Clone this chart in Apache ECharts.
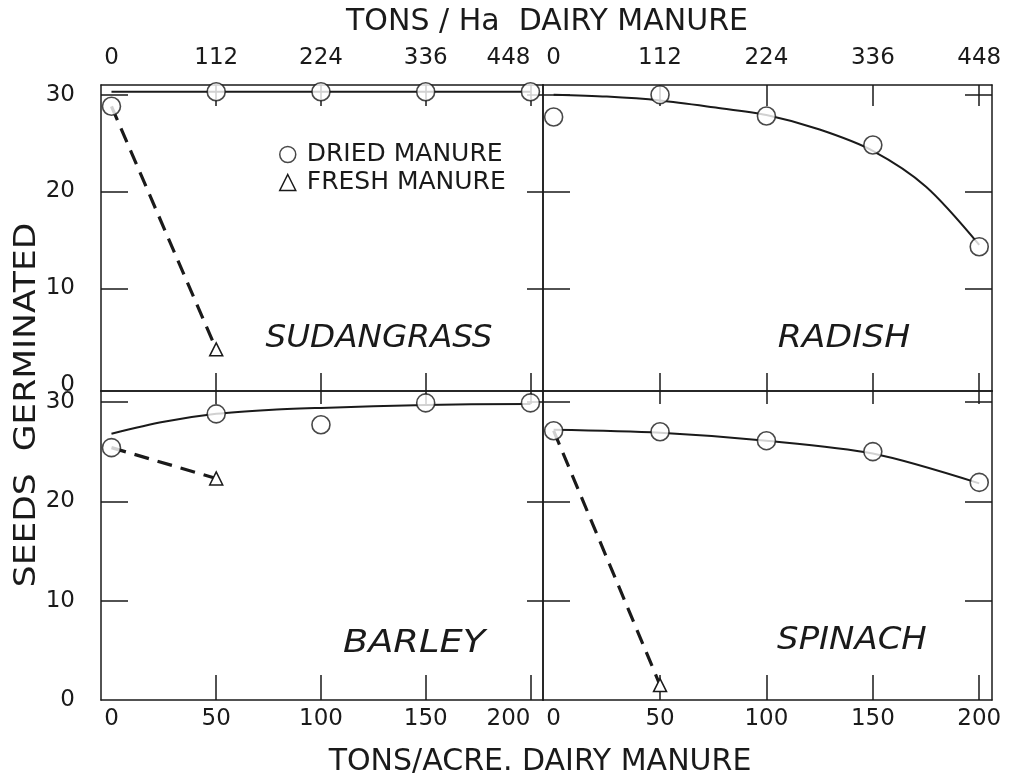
<!DOCTYPE html>
<html>
<head>
<meta charset="utf-8">
<title>Seeds germinated vs dairy manure</title>
<script src="https://cdn.jsdelivr.net/npm/echarts@6/dist/echarts.min.js"></script>
<style>
  html, body { margin: 0; padding: 0; background: #fff; }
  #main { width: 1011px; height: 781px; }
</style>
</head>
<body>
<div id="main"></div>
<script>
// axis ticks
var acreTicks = [0, 50, 100, 150, 200];
var haTicks = ['0', '112', '224', '336', '448'];
var yTicks = [0, 10, 20, 30];

// dried manure points (at acreTicks)
var sudanDried = [28.8, 30.3, 30.3, 30.3, 30.3];
var radishDried = [27.7, 30.0, 27.8, 24.8, 14.3];
var barleyDried = [25.4, 28.8, 27.7, 29.9, 29.9];
var spinachDried = [27.1, 27.0, 26.1, 25.0, 21.9];

// fresh manure (at 0 and 50 t/acre)
var freshX = [0, 50];
var sudanFresh = [28.8, 3.7];
var barleyFresh = [25.4, 22.3];
var spinachFresh = [27.1, 1.5];

// hand drawn curves through the dried points
var sudanFitX = [0, 200];
var sudanFitY = [30.3, 30.3];
var radishFitX = [0, 25, 50, 75, 100, 125, 150, 175, 200];
var radishFitY = [30.0, 29.8, 29.4, 28.7, 27.9, 26.4, 24.2, 20.5, 14.5];
var barleyFitX = [0, 25, 50, 75, 100, 150, 200];
var barleyFitY = [26.8, 28.0, 28.8, 29.2, 29.4, 29.7, 29.8];
var spinachFitX = [0, 50, 100, 150, 200];
var spinachFitY = [27.2, 26.9, 26.1, 24.8, 21.8];

var ink = '#1a1a1a';
var fontFam = '"DejaVu Sans", sans-serif';

var chartDom = document.getElementById('main');
var myChart = echarts.init(chartDom);
var option;

var pairs = function (xs, ys) {
    return xs.map(function (x, i) { return [x, ys[i]]; });
};

// panels: 0 sudangrass, 1 radish, 2 barley, 3 spinach
var grids = [
    { left: 101, top: 85, width: 442, height: 306 },
    { left: 543, top: 85, width: 449, height: 306 },
    { left: 101, top: 391, width: 442, height: 309 },
    { left: 543, top: 391, width: 449, height: 309 }
];

var lineStyle = { color: ink, width: 1.5 };

var makeX = function (g, pos, showLabel, tickLen, labels, alignMax) {
    return {
        type: 'value', gridIndex: g, position: pos, min: -5, max: 206,
        axisLine: { show: true, onZero: false, lineStyle: lineStyle },
        axisTick: { show: true, inside: true, length: tickLen, customValues: [50, 100, 150, 200], lineStyle: lineStyle },
        axisLabel: {
            show: showLabel, customValues: acreTicks, margin: pos === 'top' ? 15 : 8,
            fontSize: 23, color: ink, fontFamily: fontFam,
            alignMaxLabel: alignMax ? 'right' : null,
            formatter: function (v) { return labels[acreTicks.indexOf(v)]; }
        },
        splitLine: { show: false }
    };
};

var makeY = function (g, pos, showLabel, tickLen, min, max) {
    return {
        type: 'value', gridIndex: g, position: pos, min: min, max: max,
        axisLine: { show: true, onZero: false, lineStyle: lineStyle },
        axisTick: { show: true, inside: true, length: tickLen, customValues: [10, 20, 30], lineStyle: lineStyle },
        axisLabel: { show: showLabel, customValues: yTicks, margin: 26, fontSize: 23, color: ink, fontFamily: fontFam },
        splitLine: { show: false }
    };
};

var acreLabels = acreTicks.map(String);

var xAxes = [
    makeX(0, 'bottom', false, 18, acreLabels, false), makeX(0, 'top', true, 21, haTicks, true),
    makeX(1, 'bottom', false, 18, acreLabels, false), makeX(1, 'top', true, 21, haTicks, false),
    makeX(2, 'bottom', true, 25, acreLabels, true), makeX(2, 'top', false, 13, haTicks, false),
    makeX(3, 'bottom', true, 25, acreLabels, false), makeX(3, 'top', false, 13, haTicks, false)
];

var yAxes = [
    makeY(0, 'left', true, 27, -0.6, 31), makeY(0, 'right', false, 16, -0.6, 31),
    makeY(1, 'left', false, 27, -0.6, 31), makeY(1, 'right', false, 27, -0.6, 31),
    makeY(2, 'left', true, 27, 0, 31.1), makeY(2, 'right', false, 16, 0, 31.1),
    makeY(3, 'left', false, 27, 0, 31.1), makeY(3, 'right', false, 27, 0, 31.1)
];

var fitSeries = function (p, xs, ys) {
    return {
        type: 'line', xAxisIndex: 2 * p, yAxisIndex: 2 * p, data: pairs(xs, ys),
        smooth: 0.3, symbol: 'none', silent: true, z: 2,
        lineStyle: { color: ink, width: 2 }
    };
};

var freshSeries = function (p, ys) {
    var d = pairs(freshX, ys);
    return {
        name: 'FRESH MANURE', type: 'line', xAxisIndex: 2 * p, yAxisIndex: 2 * p,
        data: [{ value: d[0], symbol: 'none' }, { value: d[1] }],
        symbol: 'triangle', symbolSize: 13, z: 3,
        itemStyle: { color: '#fff', borderColor: ink, borderWidth: 1.5 },
        lineStyle: { color: ink, width: 3.2, type: [15, 9] }
    };
};

var driedSeries = function (p, ys) {
    return {
        name: 'DRIED MANURE', type: 'scatter', xAxisIndex: 2 * p, yAxisIndex: 2 * p,
        data: pairs(acreTicks, ys), symbol: 'circle', symbolSize: 18, z: 4,
        itemStyle: { color: '#fff', borderColor: ink, borderWidth: 1.6 }
    };
};

var panelText = function (txt, x, y, sx) {
    return {
        type: 'text', x: x, y: y, scaleX: sx, silent: true,
        style: { text: txt, font: 'italic 32px ' + fontFam, fill: ink, align: 'center', verticalAlign: 'middle' }
    };
};

var drawChart = function () {
    option = {
        animation: false,
        backgroundColor: '#fff',
        grid: grids,
        xAxis: xAxes,
        yAxis: yAxes,
        legend: {
            orient: 'vertical', left: 274, top: 137, itemWidth: 16, itemHeight: 16, itemGap: 3,
            selectedMode: false,
            textStyle: { fontSize: 25, color: ink, fontFamily: fontFam, padding: [0, 0, 0, 6] },
            data: [
                { name: 'DRIED MANURE', icon: 'circle', itemStyle: { color: '#fff', borderColor: ink, borderWidth: 1.5 } },
                { name: 'FRESH MANURE', icon: 'triangle', itemStyle: { color: '#fff', borderColor: ink, borderWidth: 1.5 } }
            ]
        },
        graphic: [
            {
                type: 'text', x: 547, y: 22, silent: true,
                style: { text: 'TONS / Ha  DAIRY MANURE', font: '30px ' + fontFam, fill: ink, align: 'center', verticalAlign: 'middle' }
            },
            {
                type: 'text', x: 540, y: 762, silent: true,
                style: { text: 'TONS/ACRE. DAIRY MANURE', font: '30px ' + fontFam, fill: ink, align: 'center', verticalAlign: 'middle' }
            },
            {
                type: 'text', x: 27, y: 405, rotation: Math.PI / 2, scaleX: 1.15, silent: true,
                style: { text: 'SEEDS  GERMINATED', font: '30px ' + fontFam, fill: ink, align: 'center', verticalAlign: 'middle' }
            },
            panelText('SUDANGRASS', 379, 339, 1.02),
            panelText('RADISH', 844, 339, 1.08),
            panelText('BARLEY', 414, 644, 1.15),
            panelText('SPINACH', 852, 641, 1.06)
        ],
        series: [
            fitSeries(0, sudanFitX, sudanFitY),
            freshSeries(0, sudanFresh),
            driedSeries(0, sudanDried),
            fitSeries(1, radishFitX, radishFitY),
            driedSeries(1, radishDried),
            fitSeries(2, barleyFitX, barleyFitY),
            freshSeries(2, barleyFresh),
            driedSeries(2, barleyDried),
            fitSeries(3, spinachFitX, spinachFitY),
            freshSeries(3, spinachFresh),
            driedSeries(3, spinachDried)
        ]
    };
    option && myChart.setOption(option);
};

drawChart();
</script>
</body>
</html>
